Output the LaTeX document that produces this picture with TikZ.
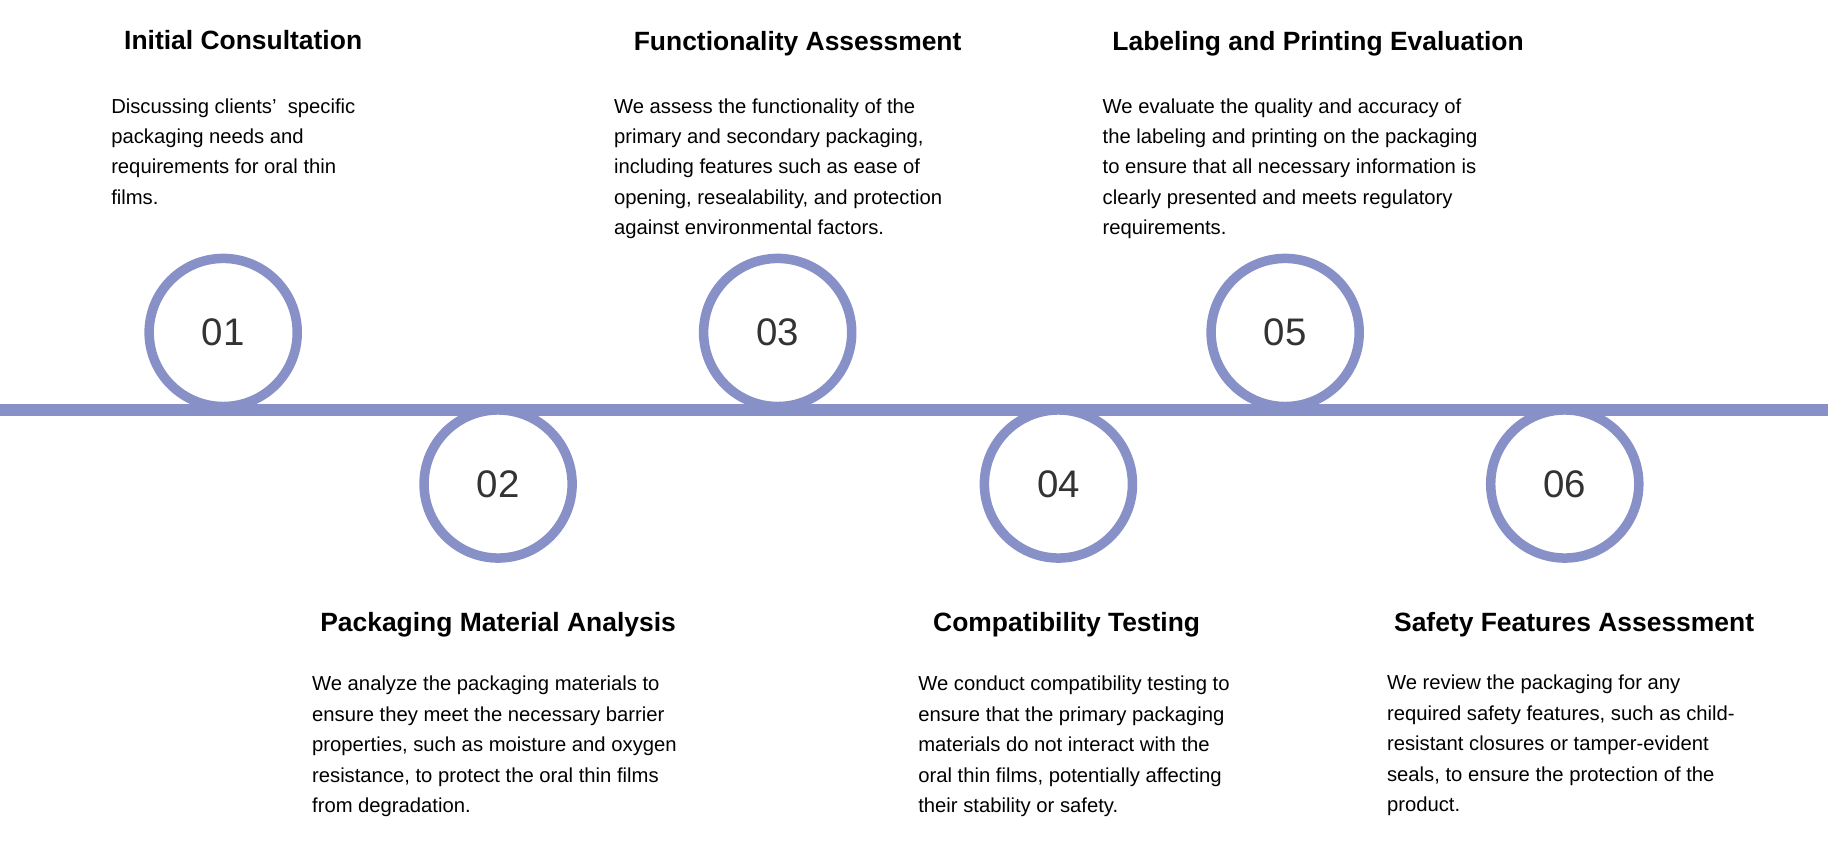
\documentclass[tikz,border=0pt]{standalone}
\usepackage{fontspec}
\setmainfont{Liberation Sans}
\definecolor{lav}{HTML}{8890C8}
\begin{document}
\begin{tikzpicture}[x=0.01cm,y=-0.01cm,
  ttl/.style={font=\bfseries\fontsize{6.4}{7.5}\selectfont,anchor=center,inner sep=0},
  body/.style={font=\fontsize{4.9}{7.37}\selectfont,anchor=north west,align=left,inner sep=0},
  circ/.style={circle,draw=lav,fill=white,line width=2.3pt,minimum size=1.26cm,inner sep=0,font=\fontsize{9.3}{10}\selectfont,text=black!80}]
\useasboundingbox (0,0) rectangle (1568,723);
\draw[lav,line width=2.8pt] (0,349) coordinate (ls) -- (1556,349) coordinate (le);
\node[circ] (c1) at (190,283) {01};
\node[circ] (c2) at (424,412) {02};
\node[circ] (c3) at (662,283) {03};
\node[circ] (c4) at (901,412) {04};
\node[circ] (c5) at (1094,283) {05};
\node[circ] (c6) at (1332,412) {06};
\node[ttl] (t1) at (207,34) {Initial Consultation};
\node[ttl] (t3) at (679,37) {Functionality Assessment};
\node[ttl] (t5) at (1122,37) {Labeling and Printing Evaluation};
\node[ttl] (t2) at (424,532) {Packaging Material Analysis};
\node[ttl] (t4) at (908,532) {Compatibility Testing};
\node[ttl] (t6) at (1340,532) {Safety Features Assessment};
\node[body] (b1) at (94,83) {Discussing clients' \ specific\\packaging needs and\\requirements for oral thin\\films.};
\node[body] (b3) at (522,83) {We assess the functionality of the\\primary and secondary packaging,\\including features such as ease of\\opening, resealability, and protection\\against environmental factors.};
\node[body] (b5) at (938,83) {We evaluate the quality and accuracy of\\the labeling and printing on the packaging\\to ensure that all necessary information is\\clearly presented and meets regulatory\\requirements.};
\node[body] (b2) at (265,575) {We analyze the packaging materials to\\ensure they meet the necessary barrier\\properties, such as moisture and oxygen\\resistance, to protect the oral thin films\\from degradation.};
\node[body] (b4) at (781,575) {We conduct compatibility testing to\\ensure that the primary packaging\\materials do not interact with the\\oral thin films, potentially affecting\\their stability or safety.};
\node[body] (b6) at (1180,574) {We review the packaging for any\\required safety features, such as child-\\resistant closures or tamper-evident\\seals, to ensure the protection of the\\product.};
\end{tikzpicture}
\end{document}
